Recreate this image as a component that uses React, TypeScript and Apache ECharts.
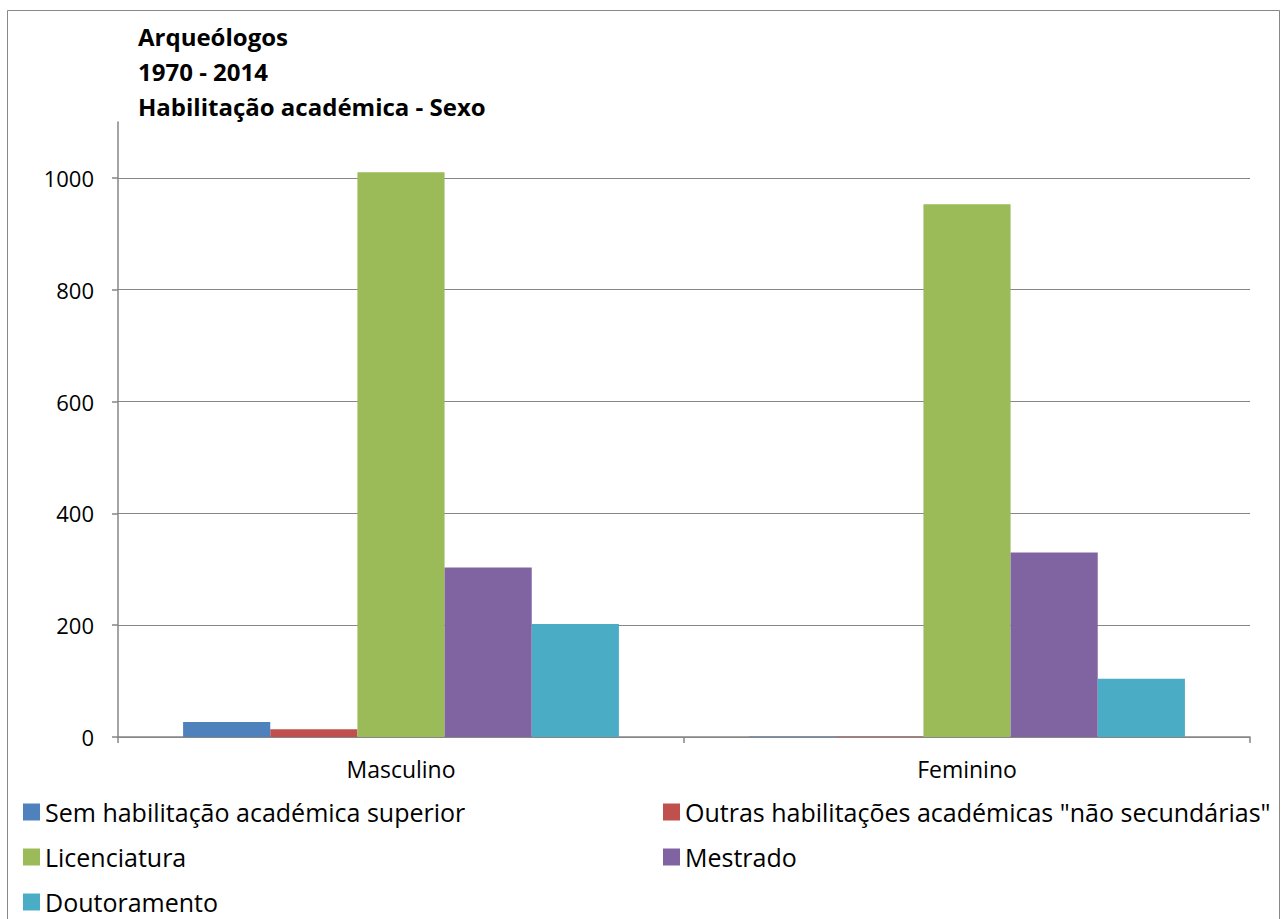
import React, { useEffect, useRef } from "react";
import * as echarts from "echarts";

const categories = ["Masculino", "Feminino"];
const seriesNames = [
  "Sem habilitação académica superior",
  'Outras habilitações académicas "não secundárias"',
  "Licenciatura",
  "Mestrado",
  "Doutoramento",
];
const semHabilitacao = [27, 1];
const outras = [14, 1];
const licenciatura = [1010, 953];
const mestrado = [303, 330];
const doutoramento = [202, 104];
const yTicks = [0, 200, 400, 600, 800, 1000];
const titleLines = ["Arqueólogos", "1970 - 2014", "Habilitação académica - Sexo"];

const colors = ["#4F81BD", "#C0504D", "#9BBB59", "#8064A2", "#4BACC6"];
const FONT = "Open Sans";

export default function App() {
  const ref = useRef<HTMLDivElement>(null);
  useEffect(() => {
    document.body.style.margin = "0";
    const chart = echarts.init(ref.current!, null, { renderer: "svg" });
    const values = [semHabilitacao, outras, licenciatura, mestrado, doutoramento];
    const legendText = { fontFamily: FONT, fontSize: 25, color: "#000", lineHeight: 30 };
    // legend placement: [seriesIndex, left, top]
    const legendPos: [number, number, number][] = [
      [0, 23, 797],
      [1, 663, 797],
      [2, 23, 842],
      [3, 663, 842],
      [4, 23, 887],
    ];
    chart.setOption({
      animation: false,
      backgroundColor: "#fff",
      title: {
        text: titleLines.join("\n"),
        left: 138,
        top: 19,
        padding: 0,
        textStyle: { fontFamily: FONT, fontSize: 24, fontWeight: "bold", color: "#000", lineHeight: 35 },
      },
      graphic: [
        {
          type: "rect",
          shape: { x: 7.5, y: 10.5, width: 1272, height: 920 },
          style: { fill: "none", stroke: "#888", lineWidth: 1 },
          silent: true,
        },
      ],
      legend: legendPos.map(([i, left, top]) => ({
        orient: "horizontal",
        left,
        top,
        padding: 0,
        itemWidth: 17,
        itemHeight: 17,
        icon: "rect",
        textStyle: legendText,
        data: [seriesNames[i]],
      })),
      grid: { left: 118, right: 35, top: 122, bottom: 182, containLabel: false },
      xAxis: {
        type: "category",
        data: categories,
        axisLine: { lineStyle: { color: "#868686", width: 1.5 } },
        axisTick: { show: true, alignWithLabel: false, length: 6, lineStyle: { color: "#868686", width: 1.5 } },
        axisLabel: { fontFamily: FONT, fontSize: 23, color: "#000", margin: 20 },
      },
      yAxis: {
        type: "value",
        min: 0,
        max: 1100,
        interval: 200,
        axisLine: { show: true, lineStyle: { color: "#868686", width: 1.5 } },
        axisTick: { show: true, length: 6, customValues: yTicks, lineStyle: { color: "#868686", width: 1.5 } },
        axisLabel: {
          fontFamily: FONT,
          fontSize: 22,
          color: "#000",
          margin: 24,
          customValues: yTicks,
          formatter: (v: number) => String(v),
        },
        splitLine: { show: true, lineStyle: { color: "#868686", width: 1 } },
      },
      series: seriesNames.map((name, i) => ({
        name,
        type: "bar",
        data: values[i],
        barGap: "0%",
        barCategoryGap: "23%",
        itemStyle: { color: colors[i] },
      })),
    });
    return () => chart.dispose();
  }, []);
  return <div ref={ref} style={{ position: "absolute", left: 0, top: 0, width: 1285, height: 919 }} />;
}
